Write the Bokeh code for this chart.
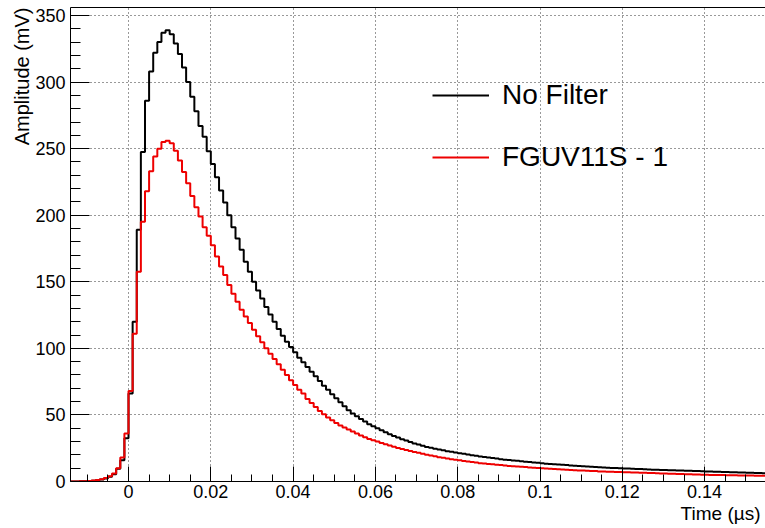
import numpy as np
from bokeh.plotting import figure
from bokeh.models import FixedTicker, LinearAxis, Legend, LegendItem, Title, Range1d
from bokeh.embed import file_html
from bokeh.resources import INLINE

# ---- data (bins of 1 ns, first bin starts at -0.014 us) ----
bin_start = -0.014
bin_width = 0.001

no_filter = [
    0.0, 0.0, 0.1, 0.2, 0.3, 0.6, 1.0, 1.5, 2.3, 3.5, 5.5, 9.5, 16.0, 32.5,
    66, 120, 189, 247.5, 286, 308, 322, 330, 337, 339,
    336, 329, 321, 311, 300, 289, 278, 267, 259, 248,
    238.5, 228.5, 218.5, 209.5, 200, 191, 182.5, 174, 165, 157.5,
    150, 143.5, 137.5, 131, 125.5, 120, 114.5, 109.5, 105, 101,
    97, 93, 89.5, 86, 82.5, 79, 75.5, 72, 69, 65.5,
    62.5, 59.5, 56.5, 53.5, 51, 49, 47, 45, 43, 41.5,
    40, 38.5, 37, 35.5, 34.2, 33, 31.8, 30.7, 29.6, 28.6,
    27.7, 26.8, 26, 25.3, 24.6, 24, 23.4, 22.8, 22.3, 21.8,
    21.3, 20.8, 20.3, 19.8, 19.3, 18.8, 18.4, 18, 17.6, 17.2,
    16.8, 16.4, 16.1, 15.8, 15.5, 15.2, 14.9, 14.6, 14.3, 14,
    13.7, 13.4, 13.2, 13, 12.8, 12.5, 12.3, 12.1, 11.9, 11.7,
    11.5, 11.3, 11.1, 10.9, 10.7, 10.5, 10.4, 10.2, 10.1, 10,
    9.8, 9.7, 9.6, 9.4, 9.3, 9.2, 9.0, 8.9, 8.8, 8.7,
    8.6, 8.5, 8.4, 8.3, 8.2, 8.1, 8.0, 7.9, 7.8, 7.7,
    7.6, 7.5, 7.4, 7.3, 7.2, 7.1, 7.0, 6.9, 6.8, 6.7,
    6.6, 6.5, 6.4, 6.3, 6.2,
]

fguv11s = [
    0.0, 0.0, 0.1, 0.2, 0.4, 0.7, 1.1, 1.7, 2.6, 3.9, 6.0, 10.0, 18.0, 36.0,
    68, 111, 157.5, 195, 218, 233, 244, 250, 255, 256,
    254, 248.5, 241, 232.5, 224, 214.5, 206, 199, 191, 184.5,
    177.5, 169, 161.5, 155, 147.5, 141, 135, 129, 124, 119,
    114, 109, 104.5, 100, 96, 92, 88, 84, 80, 76,
    72.5, 69, 66, 62, 59, 56, 53, 50.5, 48, 46,
    44, 42, 40.5, 39, 37.5, 36, 34.5, 33.2, 32, 31,
    30, 29, 28, 27, 26.1, 25.2, 24.4, 23.6, 22.9, 22.2,
    21.5, 20.8, 20.1, 19.5, 18.9, 18.3, 17.8, 17.3, 16.8, 16.3,
    15.9, 15.4, 15, 14.6, 14.2, 13.8, 13.5, 13.2, 12.9, 12.6,
    12.3, 12, 11.7, 11.4, 11.2, 11, 10.8, 10.6, 10.4, 10.2,
    10, 9.8, 9.6, 9.4, 9.2, 9.0, 8.8, 8.6, 8.5, 8.3,
    8.2, 8.0, 7.9, 7.8, 7.6, 7.5, 7.4, 7.3, 7.2, 7.1,
    7.0, 6.9, 6.8, 6.7, 6.6, 6.5, 6.4, 6.3, 6.2, 6.1,
    6.0, 5.9, 5.8, 5.7, 5.6, 5.5, 5.4, 5.3, 5.2, 5.1,
    5.0, 4.95, 4.9, 4.85, 4.8, 4.75, 4.7, 4.65, 4.6, 4.55,
    4.5, 4.45, 4.4, 4.35, 4.3,
]

series_labels = ["No Filter", "FGUV11S - 1"]
x_ticks = [0, 0.02, 0.04, 0.06, 0.08, 0.1, 0.12, 0.14]
x_tick_labels = ["0", "0.02", "0.04", "0.06", "0.08", "0.1", "0.12", "0.14"]
y_ticks = [0, 50, 100, 150, 200, 250, 300, 350]
x_title = "Time (\u00b5s)"
y_title = "Amplitude (mV)"

FONT = "Liberation Sans"

n = len(no_filter)
edges = bin_start + bin_width * np.arange(n + 1)

p = figure(width=765, height=528, output_backend="svg", toolbar_location=None,
           x_range=Range1d(-0.0141, 0.1548), y_range=Range1d(0, 356),
           min_border_left=70, min_border_right=0, min_border_top=7, min_border_bottom=47,
           background_fill_color="white", border_fill_color="white")
p.outline_line_color = None

r1 = p.step(x=edges, y=list(no_filter) + [no_filter[-1]], mode="after",
            line_color="black", line_width=2)
r2 = p.step(x=edges, y=list(fguv11s) + [fguv11s[-1]], mode="after",
            line_color="#ee0000", line_width=2)

# axes
xa = p.xaxis[0]
xa.ticker = FixedTicker(ticks=x_ticks, minor_ticks=list(np.round(np.arange(-0.01, 0.155, 0.005), 4)))
xa.major_label_overrides = {t: l for t, l in zip(x_ticks, x_tick_labels)}
ya = p.yaxis[0]
ya.ticker = FixedTicker(ticks=y_ticks, minor_ticks=list(range(0, 360, 10)))

for ax, maj, mn in ((xa, 15, 7), (ya, 19, 10)):
    ax.major_tick_in = maj
    ax.major_tick_out = 0
    ax.minor_tick_in = mn
    ax.minor_tick_out = 0
    ax.axis_line_color = "black"
    ax.major_tick_line_color = "black"
    ax.minor_tick_line_color = "black"
    ax.major_label_text_font = FONT
    ax.major_label_text_font_size = "18px"
    ax.major_label_text_color = "black"
xa.major_label_standoff = 3
ya.major_label_standoff = 5

top = LinearAxis(ticker=FixedTicker(ticks=[]), major_tick_in=0, major_tick_out=0,
                 minor_tick_in=0, minor_tick_out=0, major_label_text_font_size="0px",
                 axis_line_color="black")
p.add_layout(top, "above")

p.grid.grid_line_color = "#333333"
p.grid.grid_line_dash = "1 3"
p.grid.grid_line_width = 1
p.xgrid.ticker = FixedTicker(ticks=x_ticks)
p.ygrid.ticker = FixedTicker(ticks=y_ticks)

# axis titles (ROOT style: right / top aligned)
p.add_layout(Title(text=x_title, align="right", offset=5, standoff=0,
                   text_font=FONT, text_font_size="19px", text_font_style="normal",
                   text_color="black"), "below")
p.add_layout(Title(text=y_title, align="right", offset=0, standoff=0,
                   text_font=FONT, text_font_size="20px", text_font_style="normal",
                   text_color="black"), "left")

legend = Legend(items=[LegendItem(label=series_labels[0], renderers=[r1]),
                       LegendItem(label=series_labels[1], renderers=[r2])],
                location=(362, 304), padding=0, margin=0, spacing=22,
                glyph_width=57, glyph_height=40, label_height=40, label_standoff=13,
                label_text_font=FONT, label_text_font_size="28px",
                label_text_color="black",
                border_line_color=None, background_fill_alpha=0)
p.add_layout(legend)

open("out.html", "w").write(file_html(p, INLINE))
